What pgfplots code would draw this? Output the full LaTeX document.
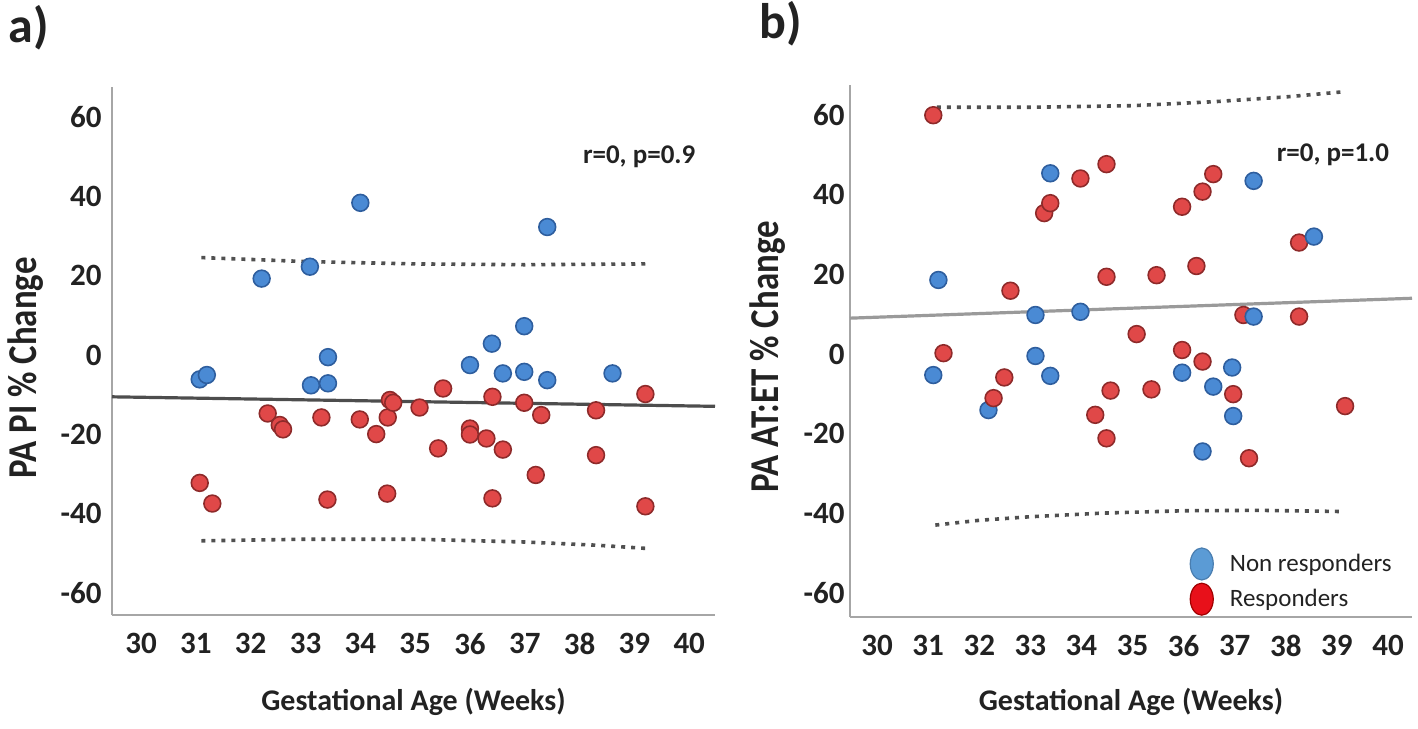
\documentclass[border=0pt]{standalone}
\usepackage{fontspec}
\setmainfont{Carlito}
\usepackage{graphicx}
\usepackage{pgfplots}
\pgfplotsset{compat=1.18}

\definecolor{bluefill}{HTML}{4A8AD4}
\definecolor{blueedge}{HTML}{2E5E9E}
\definecolor{redfill}{HTML}{E04848}
\definecolor{rededge}{HTML}{8E2A2A}
\definecolor{legblue}{HTML}{5B9BD5}
\definecolor{legblueedge}{HTML}{4A7EB0}
\definecolor{legred}{HTML}{E8101A}
\definecolor{legrededge}{HTML}{A00000}
\definecolor{axisgray}{HTML}{A6A6A6}
\definecolor{regA}{HTML}{4D4D4D}
\definecolor{regB}{HTML}{9A9A9A}
\definecolor{dotgray}{HTML}{505050}
\definecolor{textdark}{HTML}{222222}

\pgfplotsset{
  panel/.style={
    scale only axis,
    xmin=29.47, xmax=40.47,
    xtick={30,31,...,40},
    ytick={-60,-40,...,60},
    axis lines=left,
    axis line style={-, draw=axisgray, line width=1.3pt},
    major tick length=0pt,
    /pgf/number format/assume math mode=true,
    tick label style={font=\fontsize{15.5}{16}\selectfont\bfseries, text=textdark},
    xticklabel style={anchor=north, inner sep=0pt, yshift=-9pt},
    xlabel={Gestational Age (Weeks)},
    xlabel style={font=\fontsize{15}{16}\selectfont\bfseries, text=textdark, anchor=center},
    ylabel style={font=\fontsize{20.5}{22}\selectfont\bfseries, text=textdark, anchor=center},
    clip=false,
  },
  ptsB/.style={only marks, mark=*, mark size=4.2pt,
    mark options={fill=bluefill, draw=blueedge, line width=0.8pt}},
  ptsR/.style={only marks, mark=*, mark size=4.2pt,
    mark options={fill=redfill, draw=rededge, line width=0.8pt}},
  ci/.style={draw=dotgray, line width=1.8pt, dash pattern=on 2pt off 3pt, line cap=butt, no marks},
}

\begin{document}
\begin{tikzpicture}
\useasboundingbox (0pt,0pt) rectangle (709pt,364pt);

\node[font=\fontsize{25}{26}\selectfont\bfseries, text=textdark] at (14.5pt,350pt) {a)};
\node[font=\fontsize{25}{26}\selectfont\bfseries, text=textdark] at (390.5pt,352pt) {b)};

% ---------------- panel a ----------------
\begin{axis}[panel,
  at={(56pt,56.5pt)}, anchor=south west,
  width=301.5pt, height=264pt,
  ymin=-65.5, ymax=67.6,
  yticklabel style={anchor=east, inner sep=0pt, xshift=-5pt},
  ylabel={\scalebox{0.85}[1]{PA PI \% Change}},
  ylabel style={at={(axis description cs:-0.144,0.468)}},
  xlabel style={at={(axis description cs:0.5,-0.165)}},
]
\addplot[draw=regA, line width=1.6pt, forget plot] coordinates {(29.47,-10.5) (40.47,-12.9)};
\addplot[ci, forget plot] coordinates {(31.1,24.6) (33,23.6) (35,23.0) (37,22.8) (39.2,23.0)};
\addplot[ci, forget plot] coordinates {(31.1,-46.8) (33,-46.4) (35,-46.4) (37,-47.1) (38.3,-47.9) (39.2,-48.7)};
\addplot[ptsR, forget plot] table {
31.07 -32.2
31.3 -37.4
32.31 -14.7
32.53 -17.6
32.59 -18.7
33.29 -15.7
33.4 -36.4
33.99 -16.2
34.29 -19.9
34.49 -34.9
34.5 -15.7
34.54 -11.3
34.6 -12.0
35.08 -13.2
35.42 -23.5
35.51 -8.4
36.0 -18.5
36.0 -20.0
36.3 -21.0
36.41 -10.5
36.41 -36.1
36.6 -23.8
36.99 -12.0
37.2 -30.2
37.3 -15.1
38.3 -13.9
38.3 -25.2
39.2 -9.8
39.2 -38.1
};
\addplot[ptsB, forget plot] table {
31.07 -6.1
31.2 -5.0
32.2 19.3
33.08 22.3
33.1 -7.6
33.41 -7.1
33.41 -0.5
34.0 38.4
36.0 -2.5
36.4 2.9
36.6 -4.6
36.99 -4.2
36.99 7.3
37.41 -6.3
37.41 32.3
38.6 -4.6
};
\node[anchor=east, font=\fontsize{13.5}{14}\selectfont\bfseries, text=textdark] at (axis cs:40.24,50) {r=0, p=0.9};
\end{axis}

% ---------------- panel b ----------------
\begin{axis}[panel,
  at={(425pt,55.5pt)}, anchor=south west,
  width=281pt, height=266pt,
  ymin=-66.1, ymax=67.6,
  yticklabel style={anchor=east, inner sep=0pt, xshift=-2.5pt},
  ylabel={\scalebox{0.85}[1]{PA AT:ET \% Change}},
  ylabel style={at={(axis description cs:-0.146,0.489)}},
  xlabel style={at={(axis description cs:0.5,-0.16)}},
  legend style={at={(axis cs:36.11,-48.5)}, anchor=north west, draw=none, fill=none,
    inner sep=0pt, row sep=1pt,
    font=\fontsize{12.5}{13}\selectfont, text=textdark,
    nodes={inner sep=1.5pt},
    /tikz/every odd column/.append style={column sep=6.5pt}},
  legend cell align=left,
]
\addplot[draw=regB, line width=1.6pt, forget plot] coordinates {(29.47,9.0) (40.47,14.0)};
\addplot[ci, forget plot] coordinates {(31.17,62.0) (33,62.0) (35,62.4) (36.6,63.4) (38,64.6) (39.14,65.9)};
\addplot[ci, forget plot] coordinates {(31.14,-43.0) (32,-41.8) (33,-40.9) (34.4,-40.0) (36,-39.4) (37.5,-39.3) (39.14,-39.6)};
\addplot[ptsR, forget plot] table {
31.1 60.0
31.3 0.2
32.49 -5.9
32.61 15.9
33.27 35.4
33.39 37.9
33.98 44.1
34.27 -15.3
34.49 47.7
34.49 19.4
34.49 -21.2
34.57 -9.2
35.08 5.0
35.37 -8.9
35.47 19.8
35.97 37.0
35.97 1.0
36.25 22.1
36.37 40.8
36.37 -1.9
36.58 45.2
36.97 -10.1
37.17 9.8
37.28 -26.2
38.26 28.0
38.26 9.4
39.16 -13.1
};
\addplot[ptsB, forget plot] table {
31.1 -5.3
31.2 18.6
32.18 -14.1
33.1 9.8
33.1 -0.5
33.39 45.4
33.39 -5.5
33.98 10.6
35.97 -4.7
36.37 -24.5
36.58 -8.2
36.95 -3.4
36.97 -15.6
37.37 43.5
37.37 9.4
38.55 29.5
};
\addplot[ptsR, forget plot] table {
32.28 -11.1
};
\addlegendimage{legend image code/.code={\draw[fill=legblue, draw=legblueedge, line width=0.6pt] (5.75pt,0pt) ellipse [x radius=5.75pt, y radius=8pt];}}
\addlegendentry{Non responders}
\addlegendimage{legend image code/.code={\draw[fill=legred, draw=legrededge, line width=0.6pt] (5.75pt,0pt) ellipse [x radius=5.75pt, y radius=8pt];}}
\addlegendentry{Responders}
\node[anchor=east, font=\fontsize{13.5}{14}\selectfont\bfseries, text=textdark] at (axis cs:40.16,50) {r=0, p=1.0};
\end{axis}
\end{tikzpicture}
\end{document}
